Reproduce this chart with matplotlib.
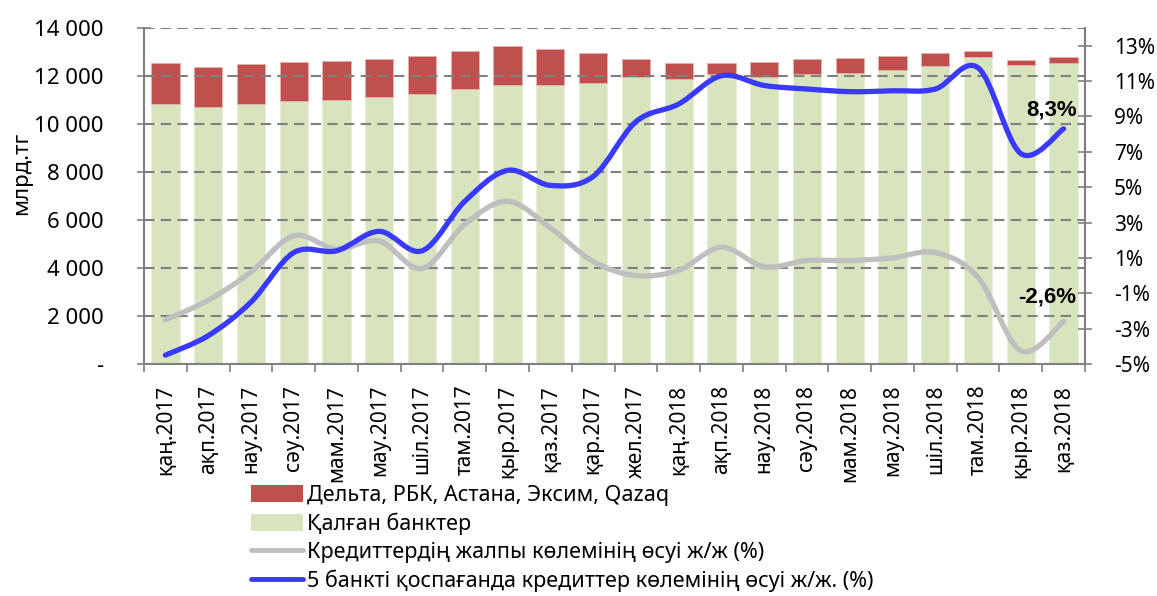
import matplotlib
matplotlib.use("Agg")
import matplotlib.pyplot as plt
import numpy as np
from matplotlib.path import Path
from matplotlib.patches import PathPatch, Patch
from matplotlib.lines import Line2D
from matplotlib.ticker import FuncFormatter, FixedLocator

plt.rcParams['font.family'] = ['Noto Sans', 'DejaVu Sans']

categories = ["қаң.2017", "ақп.2017", "нау.2017", "сәу.2017", "мам.2017", "мау.2017",
              "шіл.2017", "там.2017", "қыр.2017", "қаз.2017", "қар.2017", "жел.2017",
              "қаң.2018", "ақп.2018", "нау.2018", "сәу.2018", "мам.2018", "мау.2018",
              "шіл.2018", "там.2018", "қыр.2018", "қаз.2018"]

other_banks = [10830, 10690, 10830, 10940, 11010, 11110, 11240, 11440, 11640, 11610, 11720,
               11960, 11875, 12070, 11970, 12100, 12140, 12260, 12420, 12780, 12460, 12560]
total = [12530, 12360, 12510, 12600, 12620, 12710, 12820, 13060, 13250, 13120, 12940,
         12710, 12560, 12560, 12580, 12710, 12740, 12850, 12970, 13040, 12670, 12790]
five_banks = [t - o for t, o in zip(total, other_banks)]

growth_total = [-2.5, -1.4, 0.2, 2.25, 1.5, 1.95, 0.4, 2.9, 4.2, 2.7, 0.8, 0.0,
                0.3, 1.6, 0.5, 0.85, 0.85, 1.0, 1.3, -0.1, -4.25, -2.6]
growth_excl5 = [-4.5, -3.4, -1.5, 1.3, 1.4, 2.5, 1.4, 4.2, 5.95, 5.1, 5.6, 8.7,
                9.7, 11.3, 10.75, 10.55, 10.4, 10.45, 10.55, 11.75, 6.9, 8.3]

labels = ["Дельта, РБК, Астана, Эксим, Qazaq", "Қалған банктер",
          "Кредиттердің жалпы көлемінің өсуі ж/ж (%)",
          "5 банкті қоспағанда кредиттер көлемінің өсуі ж/ж. (%)"]

RED = "#C0504D"
GREEN = "#D7E4BD"
GRAY = "#BFBFBF"
BLUE = "#3A3AFF"

W, H = 1157, 596
fig = plt.figure(figsize=(W / 100, H / 100), dpi=100)
ax = fig.add_axes([144 / W, 1 - 364 / H, (1085 - 144) / W, (364 - 28) / H])
ax2 = ax.twinx()

x = np.arange(len(categories))
ax.bar(x, other_banks, width=0.66, color=GREEN, edgecolor="#E8EFD8", linewidth=0.6, zorder=1)
ax.bar(x, five_banks, bottom=other_banks, width=0.66, color=RED, edgecolor="#E6B0AE",
       linewidth=0.6, zorder=1)

ax.set_xlim(-0.5, len(categories) - 0.5)
ax.set_ylim(0, 14000)
ax.set_yticks(np.arange(0, 14001, 2000))
ax.yaxis.set_major_formatter(FuncFormatter(
    lambda v, p: "-" if v == 0 else f"{int(v):,}".replace(",", " ")))
ax.set_axisbelow(False)
ax.grid(axis="y", color="#808080", linestyle=(0, (5, 3)), linewidth=1.5, zorder=1.5)
ax.set_xticks(x)
ax.set_xticklabels(categories, rotation=90, fontsize=15)
ax.xaxis.set_minor_locator(FixedLocator(np.arange(-0.5, len(categories), 1)))
ax.tick_params(axis="x", which="major", length=0, pad=15)
ax.tick_params(axis="x", which="minor", length=6, width=1.2, color="#808080", direction="out")
ax.tick_params(axis="y", labelsize=16, length=10, width=1.2, color="#808080",
               direction="inout", pad=24)

fig.text(22 / W, 1 - 173 / H, "млрд.тг", rotation=90, ha="center", va="center", fontsize=16)

for side in ["left", "right", "bottom"]:
    ax.spines[side].set_color("#808080")
    ax.spines[side].set_linewidth(1.5)
ax.spines["top"].set_visible(False)
for side in ["left", "top", "bottom"]:
    ax2.spines[side].set_visible(False)
ax2.spines["right"].set_color("#808080")
ax2.spines["right"].set_linewidth(1.5)

ax2.set_ylim(-5, 14)
ax2.set_yticks(np.arange(-5, 14, 2))
ax2.yaxis.set_major_formatter(FuncFormatter(lambda v, p: f"{int(round(v))}%"))
ax2.tick_params(axis="y", labelsize=15, length=10, width=1.2, color="#808080",
                direction="inout", pad=16)


def smooth_path(xs, ys):
    xs = np.asarray(xs, float)
    ys = np.asarray(ys, float)
    P = np.column_stack([xs, ys])
    n = len(P)
    verts = [P[0]]
    codes = [Path.MOVETO]
    for i in range(n - 1):
        p0 = P[i - 1] if i > 0 else P[i]
        p1 = P[i]
        p2 = P[i + 1]
        p3 = P[i + 2] if i + 2 < n else P[i + 1]
        c1 = p1 + (p2 - p0) / 6.0
        c2 = p2 - (p3 - p1) / 6.0
        verts += [c1, c2, p2]
        codes += [Path.CURVE4] * 3
    return Path(verts, codes)


for series, col in [(growth_total, GRAY), (growth_excl5, BLUE)]:
    patch = PathPatch(smooth_path(x, series), facecolor="none", edgecolor=col,
                      linewidth=3.8, capstyle="round", joinstyle="round", zorder=3)
    ax2.add_patch(patch)

bold_font = dict(family=["Liberation Sans", "DejaVu Sans"], fontweight="bold", fontsize=16)
ax2.annotate(f"{growth_excl5[-1]:.1f}%".replace(".", ","), (x[-1], growth_excl5[-1]),
             xytext=(-9, 6), textcoords="offset points", ha="center", va="bottom",
             **bold_font)
ax2.annotate(f"{growth_total[-1]:.1f}%".replace(".", ","), (x[-1], growth_total[-1]),
             xytext=(-12, 10), textcoords="offset points", ha="center", va="bottom",
             **bold_font)

handles = [Patch(facecolor=RED, edgecolor="none"),
           Patch(facecolor=GREEN, edgecolor="none"),
           Line2D([], [], color=GRAY, linewidth=3.5, solid_capstyle="round"),
           Line2D([], [], color=BLUE, linewidth=3.5, solid_capstyle="round")]
fig.legend(handles, labels, loc="upper left", bbox_to_anchor=(251 / W, 1 - 485 / H),
           frameon=False, fontsize=15.5, handlelength=2.4, handleheight=0.8,
           handletextpad=0.2, labelspacing=0.31, borderpad=0, borderaxespad=0)

fig.savefig("out.png", dpi=100)
